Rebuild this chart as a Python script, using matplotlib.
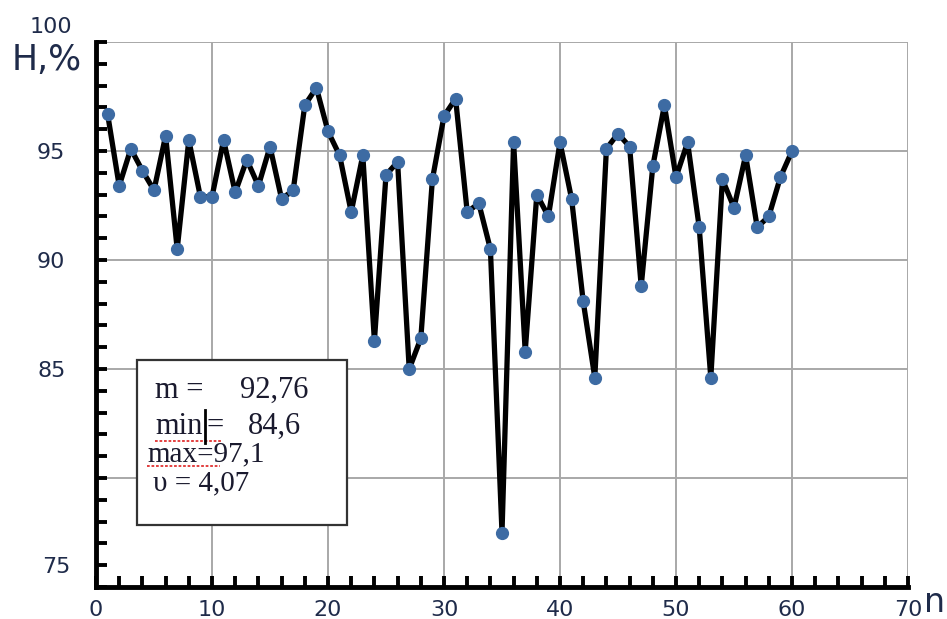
import matplotlib.pyplot as plt
from matplotlib.patches import Rectangle
from matplotlib.lines import Line2D
from matplotlib.ticker import MultipleLocator

# measured values H,% for samples n = 1..60
n = list(range(1, 61))
h = [96.7, 93.4, 95.1, 94.1, 93.2, 95.7, 90.5, 95.5, 92.9, 92.9,
     95.5, 93.1, 94.6, 93.4, 95.2, 92.8, 93.2, 97.1, 97.9, 95.9,
     94.8, 92.2, 94.8, 86.3, 93.9, 94.5, 85.0, 86.4, 93.7, 96.6,
     97.4, 92.2, 92.6, 90.5, 77.5, 95.4, 85.8, 93.0, 92.0, 95.4,
     92.8, 88.1, 84.6, 95.1, 95.8, 95.2, 88.8, 94.3, 97.1, 93.8,
     95.4, 91.5, 84.6, 93.7, 92.4, 94.8, 91.5, 92.0, 93.8, 95.0]

stat_names = ["m =", "min", "max=", "\u03c5 = "]
stat_values = ["92,76", "84,6", "97,1", "4,07"]

label_color = "#1f2b4a"
W, H = 947, 619

fig = plt.figure(figsize=(9.47, 6.19), dpi=100)
ax = fig.add_axes([96 / W, 1 - 587 / H, (908 - 96) / W, (587 - 42) / H])

ax.plot(n, h, color="black", lw=3.8, zorder=3, solid_joinstyle="round")
ax.plot(n, h, "o", color="#3d6ba3", ms=8.5, zorder=4)

ax.set_xlim(0, 70)
ax.set_ylim(75, 100)

ax.set_xticks(range(0, 71, 10))
ax.xaxis.set_minor_locator(MultipleLocator(2))
ax.set_yticks([80, 85, 90, 95, 100])
ax.set_yticklabels(["", "85", "90", "95", ""])
ax.yaxis.set_minor_locator(MultipleLocator(1))

ax.grid(True, which="major", color="#a8a8a8", lw=1.4, zorder=0)

for s in ["top", "right"]:
    ax.spines[s].set_visible(False)
for s in ["left", "bottom"]:
    ax.spines[s].set_linewidth(3.5)
    ax.spines[s].set_zorder(5)

ax.tick_params(which="both", direction="in", length=8, width=2.8,
               colors="black", labelcolor=label_color, labelsize=16)
ax.tick_params(axis="y", pad=22)
ax.tick_params(axis="x", pad=9)

# 100 and 75 labels sit off their gridlines in the original
fig.text(72 / W, 1 - 27 / H, "100", ha="right", va="center",
         fontsize=16, color=label_color)
fig.text(71 / W, 1 - 567 / H, "75", ha="right", va="center",
         fontsize=16, color=label_color)
fig.text(12 / W, 1 - 60 / H, "H,%", ha="left", va="center",
         fontsize=25, color=label_color)
fig.text(924 / W, 1 - 602 / H, "n", ha="left", va="center",
         fontsize=24, color=label_color)

# statistics box
box = Rectangle((41 / 812, 62 / 545), 210 / 812, 165 / 545,
                transform=ax.transAxes, facecolor="white",
                edgecolor="#333333", lw=1.6, zorder=6)
ax.add_patch(box)

serif = "Liberation Serif"
tc = "#1a1a2e"
fig.text(155 / W, 1 - 390 / H, stat_names[0], fontsize=22, family=serif,
         color=tc, va="center", zorder=7)
fig.text(240 / W, 1 - 390 / H, stat_values[0], fontsize=22, family=serif,
         color=tc, va="center", zorder=7)
fig.text(155 / W, 1 - 426 / H, stat_names[1], fontsize=22, family=serif,
         color=tc, va="center", zorder=7)
fig.text(206 / W, 1 - 426 / H, "=", fontsize=22, family=serif,
         color=tc, va="center", zorder=7)
fig.text(248 / W, 1 - 426 / H, stat_values[1], fontsize=22, family=serif,
         color=tc, va="center", zorder=7)
fig.text(147 / W, 1 - 454 / H, stat_names[2] + stat_values[2], fontsize=21,
         family=serif, color=tc, va="center", zorder=7)
fig.text(153 / W, 1 - 483 / H, stat_names[3] + stat_values[3], fontsize=21,
         family=serif, color=tc, va="center", zorder=7)

# spell-check underlines and text cursor from the screenshot
for x0, x1, yy in [(155, 222, 441), (147, 220, 466)]:
    fig.add_artist(Line2D([x0 / W, x1 / W], [1 - yy / H, 1 - yy / H],
                          color="#e03030", lw=1.3, ls=(0, (1.5, 1)),
                          zorder=8))
fig.add_artist(Line2D([205 / W, 205 / W], [1 - 410 / H, 1 - 443 / H],
                      color="black", lw=2, zorder=8))

fig.savefig("out.png", dpi=100)
